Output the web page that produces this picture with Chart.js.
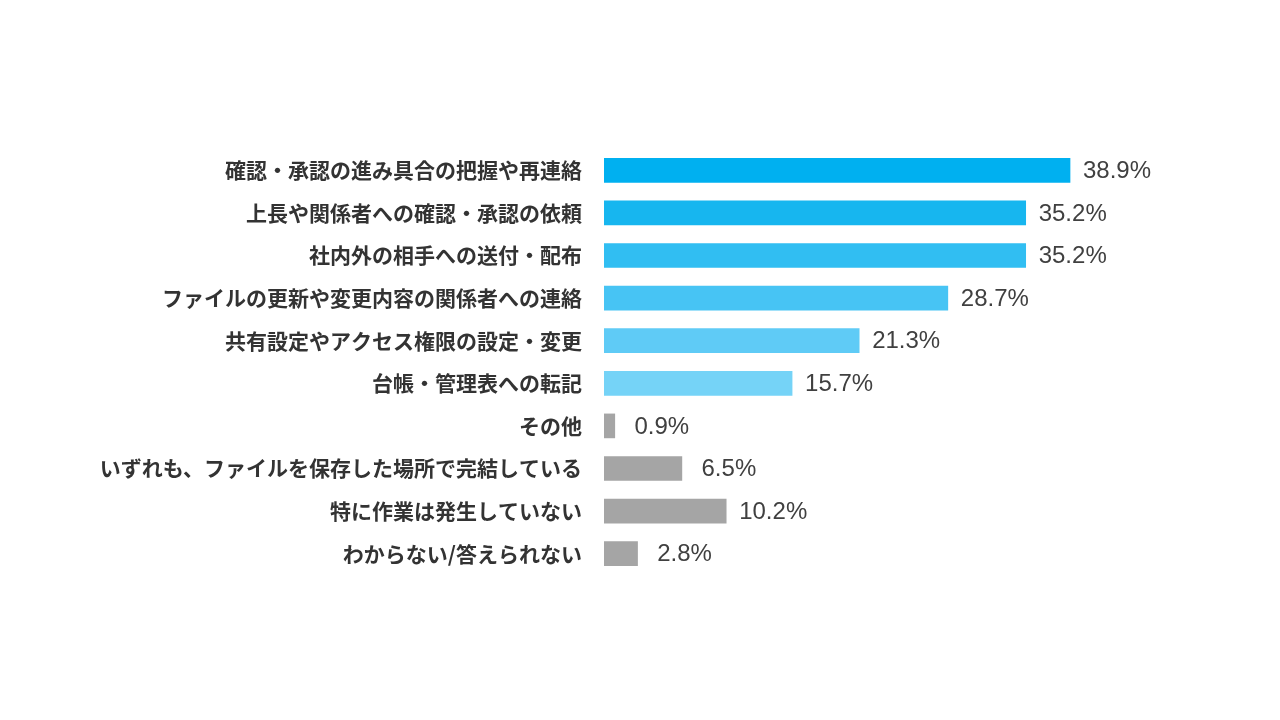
<!DOCTYPE html>
<html>
<head>
<meta charset="utf-8">
<script src="https://cdn.jsdelivr.net/npm/chart.js@4"></script>
<style>
    html, body { margin: 0; padding: 0; background: #ffffff; }
    #wrap { width: 1280px; height: 720px; }
</style>
</head>
<body>
<div id="wrap"><canvas id="chart-work" width="1280" height="720"></canvas></div>
<script>
const labelsTasks = [
    '確認・承認の進み具合の把握や再連絡',
    '上長や関係者への確認・承認の依頼',
    '社内外の相手への送付・配布',
    'ファイルの更新や変更内容の関係者への連絡',
    '共有設定やアクセス権限の設定・変更',
    '台帳・管理表への転記',
    'その他',
    'いずれも、ファイルを保存した場所で完結している',
    '特に作業は発生していない',
    'わからない/答えられない'
];

const valuesTasks = [38.9, 35.2, 35.2, 28.7, 21.3, 15.7, 0.9, 6.5, 10.2, 2.8];

const colorsTasks = [
    '#00b0f0',
    '#17b6ef',
    '#31bef2',
    '#47c4f4',
    '#5fcbf6',
    '#75d3f7',
    '#a5a5a5',
    '#a5a5a5',
    '#a5a5a5',
    '#a5a5a5'
];

// draws the value text to the right of each bar
const valueLabels = {
    id: 'valueLabels',
    afterDatasetsDraw(chart) {
        const ctx = chart.ctx;
        const meta = chart.getDatasetMeta(0);
        ctx.save();
        ctx.font = '24px "Liberation Sans", Arial, sans-serif';
        ctx.fillStyle = '#404040';
        ctx.textAlign = 'center';
        ctx.textBaseline = 'middle';
        meta.data.forEach((bar, i) => {
            const v = chart.data.datasets[0].data[i];
            ctx.fillText(v.toFixed(1) + '%', bar.x + 47, bar.y + 1);
        });
        ctx.restore();
    }
};

const configTasks = {
    type: 'bar',
    data: {
        labels: labelsTasks,
        datasets: [{
            label: '割合',
            data: valuesTasks,
            backgroundColor: colorsTasks,
            borderWidth: 0,
            barThickness: 24,
            categoryPercentage: 1
        }]
    },
    options: {
        indexAxis: 'y',
        responsive: false,
        animation: false,
        layout: {
            padding: { top: 149, bottom: 145, left: 0, right: 77 }
        },
        scales: {
            x: {
                display: false,
                min: 0,
                max: 50
            },
            y: {
                grid: { display: false, drawTicks: false },
                border: { display: false },
                ticks: {
                    padding: 22,
                    color: '#333333',
                    font: {
                        family: '"Noto Sans CJK JP", sans-serif',
                        size: 21,
                        weight: 'bold'
                    }
                },
                afterFit(scale) {
                    scale.width = 604;
                }
            }
        },
        plugins: {
            legend: { display: false },
            tooltip: { enabled: false }
        }
    },
    plugins: [valueLabels]
};

const myChartTasks = new Chart(
    document.getElementById('chart-work'),
    configTasks
);
</script>
</body>
</html>
